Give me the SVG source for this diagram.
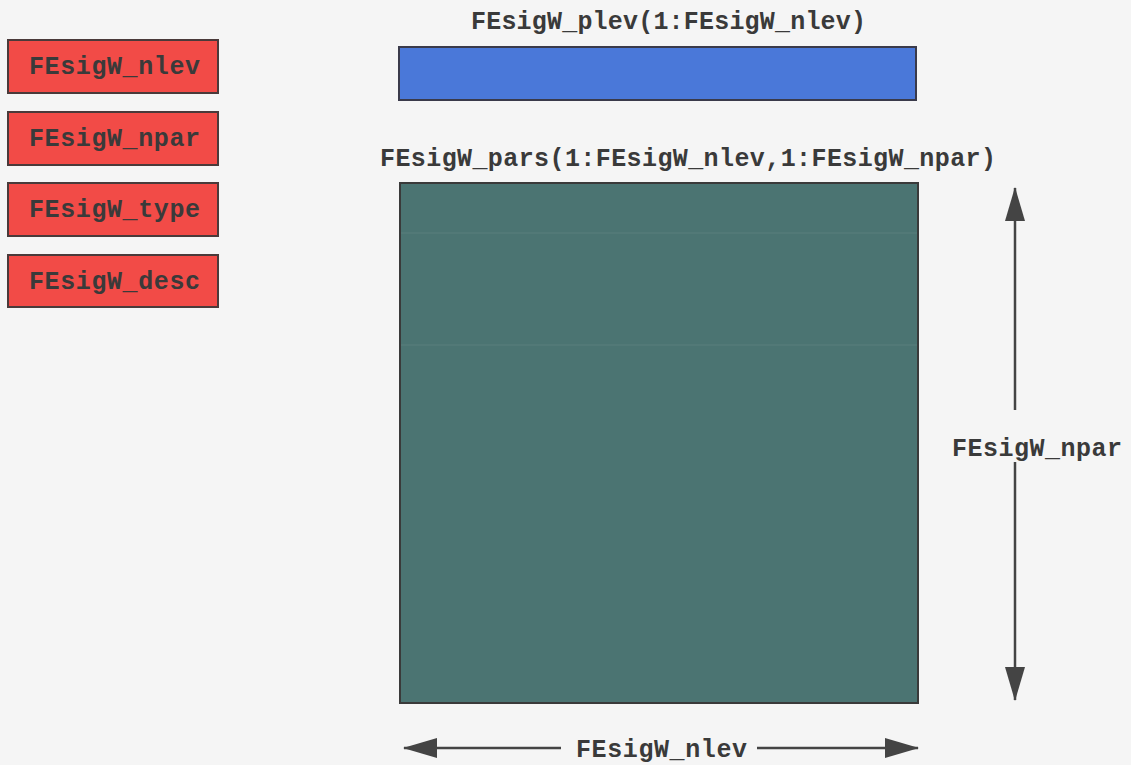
<svg xmlns="http://www.w3.org/2000/svg" width="1131" height="765" viewBox="0 0 1131 765">
  <style>
    .lbl { font-family: "Liberation Mono", "Courier New", monospace; font-weight: bold; fill: #3a3a3a; }
    .var rect { fill: #f24b47; stroke: #4a3a3a; stroke-width: 2; }
    .var text { font-size: 25px; text-anchor: start; }
    .big { font-size: 25px; }
    .dim { stroke: #444; stroke-width: 2.5; fill: none; }
  </style>
  <defs>
    <marker id="head" viewBox="0 0 34 20" refX="33" refY="10" markerWidth="34" markerHeight="20" markerUnits="userSpaceOnUse" orient="auto-start-reverse">
      <path d="M0,0 L34,10 L0,20 Z" fill="#444"/>
    </marker>
  </defs>
  <rect width="1131" height="765" fill="#f5f5f5"/>

  <!-- scalar variables -->
  <g id="nlev" class="var">
    <rect x="8" y="40" width="210" height="53"/>
    <text class="lbl" x="29" y="74" textLength="171" lengthAdjust="spacing">FEsigW_nlev</text>
  </g>
  <g id="npar" class="var">
    <rect x="8" y="112" width="210" height="53"/>
    <text class="lbl" x="29" y="146" textLength="171" lengthAdjust="spacing">FEsigW_npar</text>
  </g>
  <g id="type" class="var">
    <rect x="8" y="183" width="210" height="53"/>
    <text class="lbl" x="29" y="217" textLength="171" lengthAdjust="spacing">FEsigW_type</text>
  </g>
  <g id="desc" class="var">
    <rect x="8" y="255" width="210" height="52"/>
    <text class="lbl" x="29" y="289" textLength="171" lengthAdjust="spacing">FEsigW_desc</text>
  </g>

  <!-- pressure level vector -->
  <g id="plev">
    <text class="lbl big" x="471" y="29" textLength="395" lengthAdjust="spacing">FEsigW_plev(1:FEsigW_nlev)</text>
    <rect x="399" y="47" width="517" height="53" fill="#4a78d9" stroke="#3a3a4a" stroke-width="2"/>
  </g>

  <!-- parameter array -->
  <g id="pars">
    <text class="lbl big" x="380" y="166" textLength="616" lengthAdjust="spacing">FEsigW_pars(1:FEsigW_nlev,1:FEsigW_npar)</text>
    <rect x="400" y="183" width="518" height="520" fill="#4b7472" stroke="#3a3a3a" stroke-width="2"/>
    <line x1="401" y1="233" x2="917" y2="233" stroke="#6a8a88" stroke-width="1" opacity="0.5"/>
    <line x1="401" y1="345" x2="917" y2="345" stroke="#6a8a88" stroke-width="1" opacity="0.5"/>
  </g>

  <!-- dimension arrows -->
  <g id="connectors">
    <line class="dim" x1="1015" y1="410" x2="1015" y2="188" marker-end="url(#head)"/>
    <line class="dim" x1="1015" y1="462" x2="1015" y2="700" marker-end="url(#head)"/>
    <line class="dim" x1="561" y1="748" x2="404" y2="748" marker-end="url(#head)"/>
    <line class="dim" x1="757" y1="748" x2="918" y2="748" marker-end="url(#head)"/>
    <text class="lbl big" x="952" y="456" textLength="170" lengthAdjust="spacing">FEsigW_npar</text>
    <text class="lbl big" x="576" y="757" textLength="171" lengthAdjust="spacing">FEsigW_nlev</text>
  </g>
</svg>
